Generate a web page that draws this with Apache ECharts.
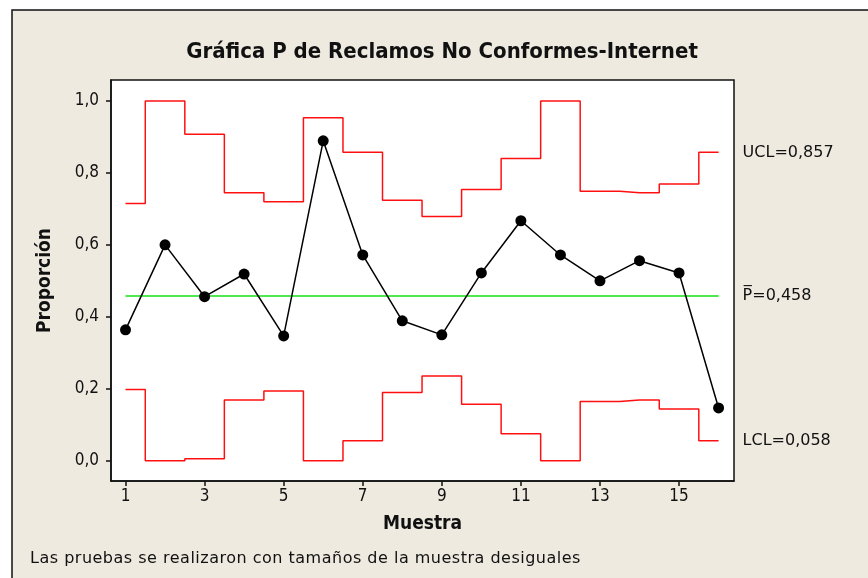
<!DOCTYPE html>
<html>
<head>
<meta charset="utf-8">
<style>
  html, body { margin: 0; padding: 0; background: #fff; }
  #chart-container { width: 868px; height: 578px; }
</style>
<script src="https://cdn.jsdelivr.net/npm/echarts@6/dist/echarts.min.js"></script>
</head>
<body>
<div id="chart-container"></div>
<script>
// sample numbers 1..16
const samples = [1, 2, 3, 4, 5, 6, 7, 8, 9, 10, 11, 12, 13, 14, 15, 16];
const proportion = [0.364, 0.600, 0.456, 0.519, 0.347, 0.889, 0.572, 0.389,
  0.350, 0.522, 0.667, 0.572, 0.500, 0.556, 0.522, 0.147];
const ucl = [0.715, 1.0, 0.907, 0.745, 0.720, 0.953, 0.857, 0.724,
  0.679, 0.754, 0.840, 1.0, 0.749, 0.745, 0.769, 0.857];
const lcl = [0.198, 0.0, 0.006, 0.169, 0.194, 0.0, 0.056, 0.190,
  0.236, 0.157, 0.075, 0.0, 0.165, 0.169, 0.144, 0.056];
const pBar = 0.458;
const xTicks = [1, 3, 5, 7, 9, 11, 13, 15];
const yTicks = [0, 0.2, 0.4, 0.6, 0.8, 1.0];

const COND = 'DejaVu Sans Condensed, DejaVu Sans, sans-serif';
const WIDE = 'DejaVu Sans, sans-serif';
const comma = (v, d) => v.toFixed(d).replace('.', ',');
const pairs = (ys) => samples.map((x, i) => [x, ys[i]]);

const initChart = () => {
  const dom = document.getElementById('chart-container');
  return echarts.init(dom, null, { renderer: 'canvas' });
};

const endLabel = (text) => ({
  show: true,
  formatter: text,
  distance: 24,
  color: '#111',
  fontFamily: WIDE,
  fontSize: 16,
});

const limitLine = (name, ys, label) => ({
  name: name,
  type: 'line',
  step: 'middle',
  data: pairs(ys),
  symbol: 'none',
  lineStyle: { color: '#FF1010', width: 1.5 },
  endLabel: endLabel(label),
  z: 2,
  silent: true,
});

const renderChart = (chart) => {
  chart.setOption({
    backgroundColor: '#fff',
    animation: false,
    graphic: [{
      type: 'rect',
      shape: { x: 12, y: 10, width: 900, height: 600 },
      style: { fill: '#EEEAE0', stroke: '#111', lineWidth: 1.5 },
      z: -10,
    }],
    title: {
      text: 'Gráfica P de Reclamos No Conformes-Internet',
      left: 437,
      textAlign: 'center',
      top: 36,
      textStyle: { fontFamily: COND, fontSize: 22, fontWeight: 'bold', color: '#111' },
    },
    grid: {
      left: 111, top: 80, right: 134, bottom: 97,
      show: true, backgroundColor: '#fff', borderColor: '#111', borderWidth: 1.5,
    },
    xAxis: {
      type: 'value',
      min: 0.633,
      max: 16.39,
      name: 'Muestra',
      nameLocation: 'middle',
      nameGap: 34,
      nameTextStyle: { fontFamily: COND, fontSize: 19, fontWeight: 'bold', color: '#111' },
      splitLine: { show: false },
      axisLine: { show: true, onZero: false, lineStyle: { color: '#111', width: 1.5 } },
      axisTick: { show: true, customValues: xTicks, length: 5, lineStyle: { color: '#111', width: 1.5 } },
      axisLabel: {
        customValues: xTicks,
        fontFamily: COND, fontSize: 17, color: '#111', margin: 7,
      },
    },
    yAxis: {
      type: 'value',
      min: -0.056,
      max: 1.058,
      name: 'Proporción',
      nameLocation: 'middle',
      nameGap: 56,
      nameTextStyle: { fontFamily: COND, fontSize: 19, fontWeight: 'bold', color: '#111' },
      splitLine: { show: false },
      axisLine: { show: true, onZero: false, lineStyle: { color: '#111', width: 1.5 } },
      axisTick: { show: true, customValues: yTicks, length: 5, lineStyle: { color: '#111', width: 1.5 } },
      axisLabel: {
        customValues: yTicks,
        formatter: (v) => comma(v, 1),
        fontFamily: COND, fontSize: 17, color: '#111', margin: 12,
      },
    },
    series: [
      limitLine('UCL', ucl, 'UCL=0,857'),
      limitLine('LCL', lcl, 'LCL=0,058'),
      {
        name: 'P',
        type: 'line',
        data: [[samples[0], pBar], [samples[samples.length - 1], pBar]],
        symbol: 'none',
        lineStyle: { color: '#14E014', width: 1.3 },
        endLabel: endLabel('P\u0305=0,458'),
        z: 2,
        silent: true,
      },
      {
        name: 'Proporción',
        type: 'line',
        data: pairs(proportion),
        symbol: 'circle',
        symbolSize: 11,
        itemStyle: { color: '#000' },
        lineStyle: { color: '#000', width: 1.5 },
        z: 3,
      },
    ],
  });
};

const chart = initChart();
renderChart(chart);
</script>
<div style="position:absolute;left:30px;top:548px;font:16px 'DejaVu Sans',sans-serif;letter-spacing:0.5px;color:#111;">Las pruebas se realizaron con tamaños de la muestra desiguales</div>
</body>
</html>
